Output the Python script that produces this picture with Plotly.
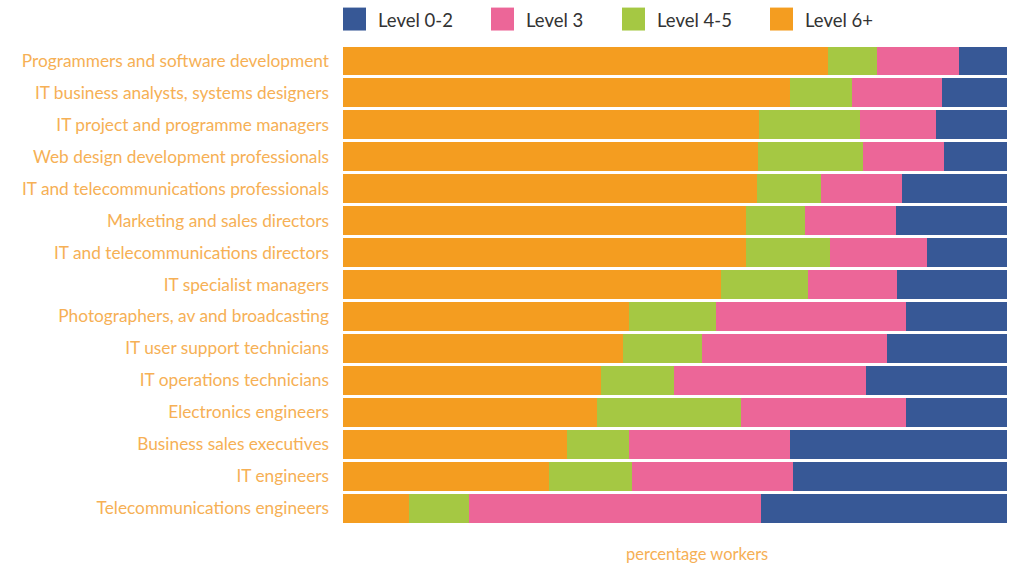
import plotly.graph_objects as go

categories = [
    "Programmers and software development",
    "IT business analysts, systems designers",
    "IT project and programme managers",
    "Web design development professionals",
    "IT and telecommunications professionals",
    "Marketing and sales directors",
    "IT and telecommunications directors",
    "IT specialist managers",
    "Photographers, av and broadcasting",
    "IT user support technicians",
    "IT operations technicians",
    "Electronics engineers",
    "Business sales executives",
    "IT engineers",
    "Telecommunications engineers",
]
level_6_plus = [73.0, 67.3, 62.7, 62.5, 62.4, 60.7, 60.7, 56.9, 43.1, 42.2, 38.9, 38.3, 33.7, 31.0, 9.9]
level_4_5 = [7.4, 9.3, 15.2, 15.8, 9.6, 8.9, 12.6, 13.1, 13.1, 11.8, 11.0, 21.7, 9.3, 12.5, 9.0]
level_3 = [12.4, 13.6, 11.4, 12.2, 12.2, 13.7, 14.6, 13.4, 28.6, 28.0, 28.8, 24.8, 24.3, 24.3, 44.0]
level_0_2 = [7.2, 9.8, 10.7, 9.5, 15.8, 16.7, 12.1, 16.6, 15.2, 18.0, 21.3, 15.2, 32.7, 32.2, 37.1]

series = [
    ("Level 6+", level_6_plus, "#F49D20"),
    ("Level 4-5", level_4_5, "#A5C843"),
    ("Level 3", level_3, "#EC6698"),
    ("Level 0-2", level_0_2, "#375896"),
]
legend_order = ["Level 0-2", "Level 3", "Level 4-5", "Level 6+"]
x_title = "percentage workers"

W, H = 1011, 568
PL, PR, PT, PB = 343, 1007, 44.5, 524.5  # plot area in page coords
ML, MR, MT, MB = PL, W - PR, PT, H - PB
pw = PR - PL
ph = PB - PT

fig = go.Figure()
for name, vals, col in series:
    fig.add_trace(go.Bar(
        y=categories, x=vals, name=name, orientation="h",
        marker=dict(color=col, line=dict(width=0)),
        showlegend=False,
    ))

fig.update_layout(
    width=W, height=H,
    barmode="stack", bargap=0.094,
    margin=dict(l=ML, r=MR, t=MT, b=MB),
    paper_bgcolor="white", plot_bgcolor="white",
    font=dict(family="Lato, sans-serif"),
    xaxis=dict(range=[0, 100], showticklabels=False, showgrid=False,
               zeroline=False, showline=False, ticks=""),
    yaxis=dict(autorange="reversed", showgrid=False, zeroline=False,
               showline=False, ticks="", ticklabelstandoff=13,
               tickfont=dict(size=17.3, color="#F6B055", family="Lato, sans-serif")),
)


def px_x(x):
    return (x - PL) / pw


def px_y(y):
    return (PB - y) / ph


colors = {n: c for n, _, c in series}
legend_x = [343, 491, 622, 770]
for lx, name in zip(legend_x, legend_order):
    fig.add_shape(type="rect", xref="paper", yref="paper",
                  x0=px_x(lx), x1=px_x(lx + 23), y0=px_y(30), y1=px_y(7),
                  fillcolor=colors[name], line=dict(width=0))
    fig.add_annotation(xref="paper", yref="paper",
                       x=px_x(lx + 33), y=px_y(19),
                       xanchor="left", yanchor="middle", showarrow=False,
                       text=name, font=dict(size=18.5, color="#333333", family="Lato, sans-serif"))

fig.add_annotation(xref="paper", yref="paper",
                   x=px_x(697), y=px_y(555),
                   xanchor="center", yanchor="middle", showarrow=False,
                   text=x_title, font=dict(size=16.5, color="#F6B055", family="Lato, sans-serif"))

fig.write_html(
    "out.html",
    config={"displayModeBar": False},
    post_script="document.body.style.margin='0';document.body.style.overflow='hidden';",
)
